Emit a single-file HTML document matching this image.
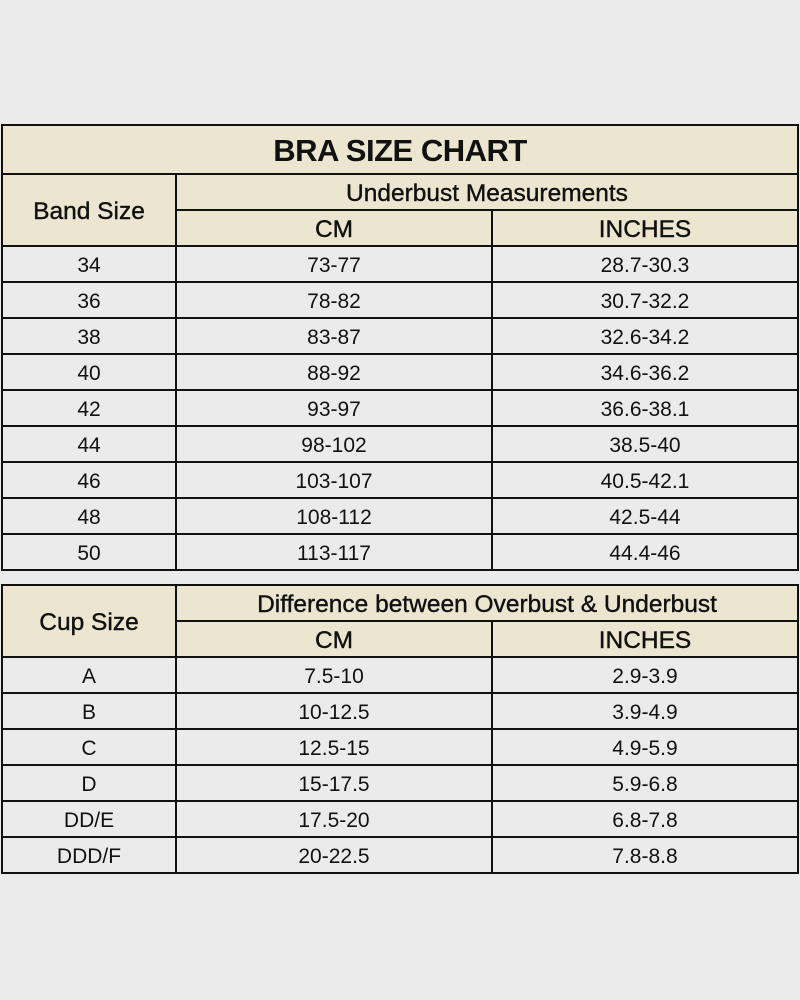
<!DOCTYPE html>
<html><head><meta charset="utf-8"><style>
body{margin:0;width:800px;height:1000px;background:#ebebeb;position:relative;overflow:hidden;font-family:"Liberation Sans",sans-serif;color:#111}
.c{position:absolute;box-sizing:border-box;border:2px solid #111;display:flex;align-items:center;justify-content:center;font-size:21px;padding-top:3px}
.h{background:#ece6d0;font-size:24.5px;-webkit-text-stroke:0.4px #111}
.t{font-weight:bold;font-size:31px;letter-spacing:-0.5px;-webkit-text-stroke:0}
</style></head><body>
<div class="c h t" style="left:1px;top:124px;width:798px;height:51px">BRA SIZE CHART</div>
<div class="c h" style="left:1px;top:173px;width:176px;height:74px">Band Size</div>
<div class="c h" style="left:175px;top:173px;width:624px;height:38px">Underbust Measurements</div>
<div class="c h" style="left:175px;top:209px;width:318px;height:38px">CM</div>
<div class="c h" style="left:491px;top:209px;width:308px;height:38px">INCHES</div>
<div class="c h" style="left:1px;top:584px;width:176px;height:74px">Cup Size</div>
<div class="c h" style="left:175px;top:584px;width:624px;height:38px">Difference between Overbust &amp; Underbust</div>
<div class="c h" style="left:175px;top:620px;width:318px;height:38px">CM</div>
<div class="c h" style="left:491px;top:620px;width:308px;height:38px">INCHES</div>
<div class="c" style="left:1px;top:245px;width:176px;height:38px">34</div><div class="c" style="left:175px;top:245px;width:318px;height:38px">73-77</div><div class="c" style="left:491px;top:245px;width:308px;height:38px">28.7-30.3</div>
<div class="c" style="left:1px;top:281px;width:176px;height:38px">36</div><div class="c" style="left:175px;top:281px;width:318px;height:38px">78-82</div><div class="c" style="left:491px;top:281px;width:308px;height:38px">30.7-32.2</div>
<div class="c" style="left:1px;top:317px;width:176px;height:38px">38</div><div class="c" style="left:175px;top:317px;width:318px;height:38px">83-87</div><div class="c" style="left:491px;top:317px;width:308px;height:38px">32.6-34.2</div>
<div class="c" style="left:1px;top:353px;width:176px;height:38px">40</div><div class="c" style="left:175px;top:353px;width:318px;height:38px">88-92</div><div class="c" style="left:491px;top:353px;width:308px;height:38px">34.6-36.2</div>
<div class="c" style="left:1px;top:389px;width:176px;height:38px">42</div><div class="c" style="left:175px;top:389px;width:318px;height:38px">93-97</div><div class="c" style="left:491px;top:389px;width:308px;height:38px">36.6-38.1</div>
<div class="c" style="left:1px;top:425px;width:176px;height:38px">44</div><div class="c" style="left:175px;top:425px;width:318px;height:38px">98-102</div><div class="c" style="left:491px;top:425px;width:308px;height:38px">38.5-40</div>
<div class="c" style="left:1px;top:461px;width:176px;height:38px">46</div><div class="c" style="left:175px;top:461px;width:318px;height:38px">103-107</div><div class="c" style="left:491px;top:461px;width:308px;height:38px">40.5-42.1</div>
<div class="c" style="left:1px;top:497px;width:176px;height:38px">48</div><div class="c" style="left:175px;top:497px;width:318px;height:38px">108-112</div><div class="c" style="left:491px;top:497px;width:308px;height:38px">42.5-44</div>
<div class="c" style="left:1px;top:533px;width:176px;height:38px">50</div><div class="c" style="left:175px;top:533px;width:318px;height:38px">113-117</div><div class="c" style="left:491px;top:533px;width:308px;height:38px">44.4-46</div>
<div class="c" style="left:1px;top:656px;width:176px;height:38px">A</div><div class="c" style="left:175px;top:656px;width:318px;height:38px">7.5-10</div><div class="c" style="left:491px;top:656px;width:308px;height:38px">2.9-3.9</div>
<div class="c" style="left:1px;top:692px;width:176px;height:38px">B</div><div class="c" style="left:175px;top:692px;width:318px;height:38px">10-12.5</div><div class="c" style="left:491px;top:692px;width:308px;height:38px">3.9-4.9</div>
<div class="c" style="left:1px;top:728px;width:176px;height:38px">C</div><div class="c" style="left:175px;top:728px;width:318px;height:38px">12.5-15</div><div class="c" style="left:491px;top:728px;width:308px;height:38px">4.9-5.9</div>
<div class="c" style="left:1px;top:764px;width:176px;height:38px">D</div><div class="c" style="left:175px;top:764px;width:318px;height:38px">15-17.5</div><div class="c" style="left:491px;top:764px;width:308px;height:38px">5.9-6.8</div>
<div class="c" style="left:1px;top:800px;width:176px;height:38px">DD/E</div><div class="c" style="left:175px;top:800px;width:318px;height:38px">17.5-20</div><div class="c" style="left:491px;top:800px;width:308px;height:38px">6.8-7.8</div>
<div class="c" style="left:1px;top:836px;width:176px;height:38px">DDD/F</div><div class="c" style="left:175px;top:836px;width:318px;height:38px">20-22.5</div><div class="c" style="left:491px;top:836px;width:308px;height:38px">7.8-8.8</div>
</body></html>
